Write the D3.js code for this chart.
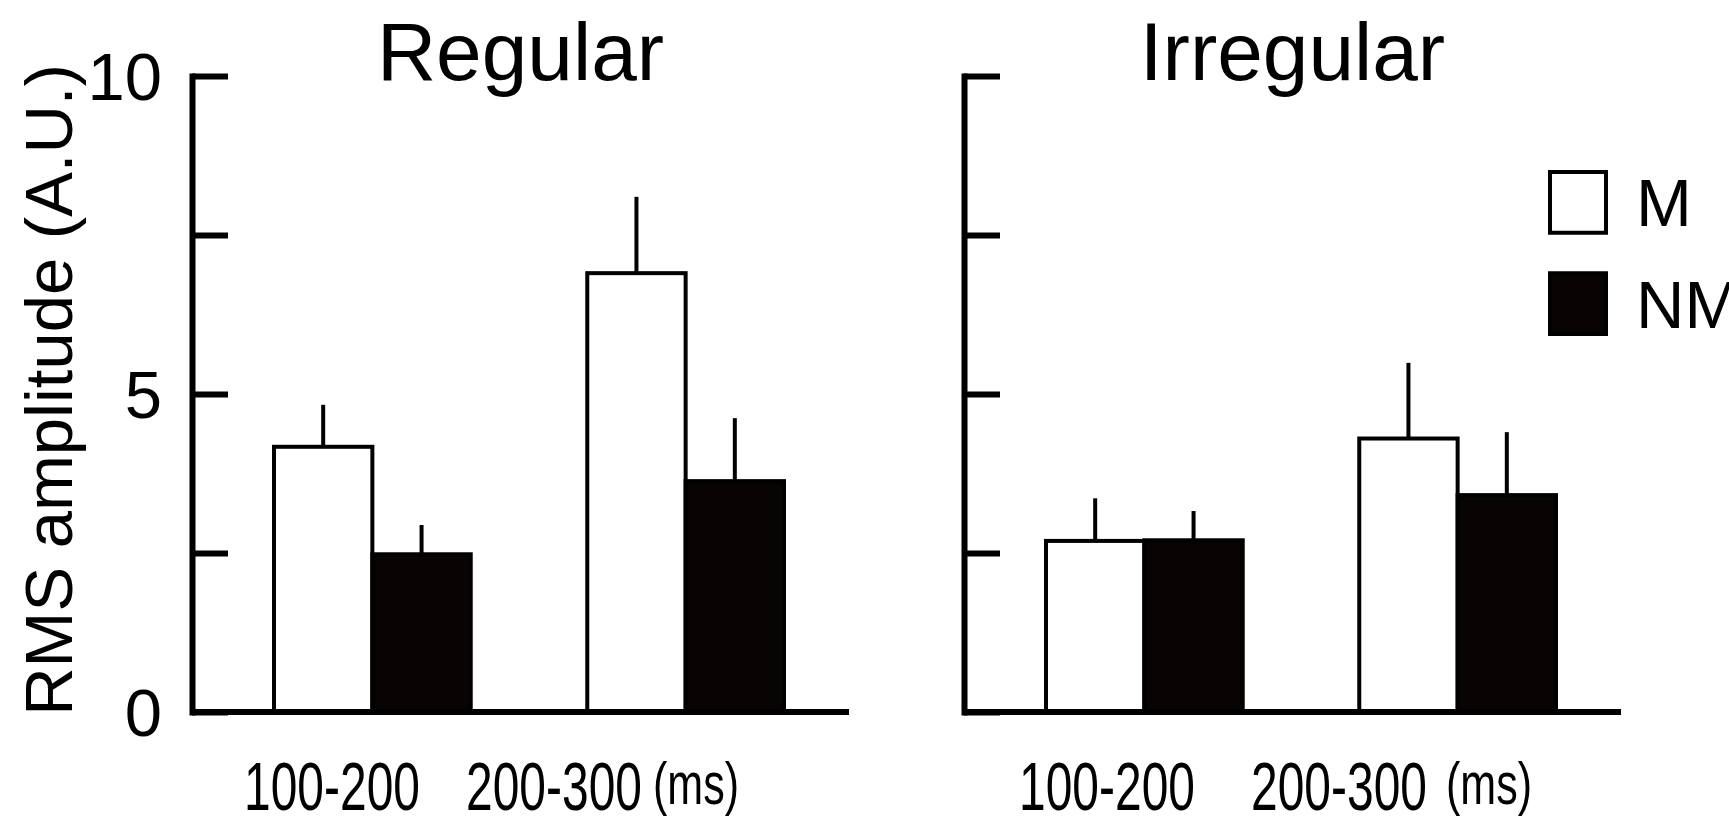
<!DOCTYPE html>
<html>
<head>
  <meta charset="utf-8">
  <title>RMS amplitude, Regular vs Irregular</title>
  <script src="https://d3js.org/d3.v7.min.js"></script>
  <style>
    body { margin: 0; background: #fff; }
    text { font-family: "Liberation Sans", Arial, Helvetica, sans-serif; fill: #000; }
  </style>
</head>
<body>
<script>
  const width = 1729;
  const height = 825;

  // data
  const categories = ["100-200", "200-300"];
  const conditions = ["M", "NM"];
  const panelTitles = ["Regular", "Irregular"];
  const regularM = [4.17, 6.90];
  const regularMErr = [0.66, 1.20];
  const regularNM = [2.48, 3.63];
  const regularNMErr = [0.46, 0.99];
  const irregularM = [2.69, 4.30];
  const irregularMErr = [0.67, 1.19];
  const irregularNM = [2.70, 3.41];
  const irregularNMErr = [0.46, 0.99];
  const yTicks = [0, 2.5, 5, 7.5, 10];
  const yTickLabels = ["0", "5", "10"];

  const panels = [
    {title: panelTitles[0], m: regularM, mErr: regularMErr, nm: regularNM, nmErr: regularNMErr},
    {title: panelTitles[1], m: irregularM, mErr: irregularMErr, nm: irregularNM, nmErr: irregularNMErr}
  ];

  // layout
  const panelX = [192, 964];
  const panelW = 657;
  const labelStarts = [[52, 274, 461], [55, 287, 482]];
  const fills = {M: "#fff", NM: "#080404"};

  const svg = d3.select("body")
    .append("svg")
    .attr("width", width)
    .attr("height", height);

  const y = d3.scaleLinear().domain([0, 10]).range([712, 76]);

  const x0 = d3.scaleBand()
    .domain(categories)
    .range([82, 592])
    .paddingInner(0.372);

  const x1 = d3.scaleBand()
    .domain(conditions)
    .range([0, x0.bandwidth()]);

  // condensed label: squeeze a text horizontally to a given width
  function narrowText(parent, x, yPos, size, w, str) {
    const t = parent.append("g")
      .append("text")
      .style("font-size", size + "px")
      .text(str);
    const natural = t.node().getComputedTextLength();
    t.node().parentNode.setAttribute("transform",
      `translate(${x},${yPos}) scale(${w / natural},1)`);
  }

  panels.forEach((p, i) => {
    const g = svg.append("g").attr("transform", `translate(${panelX[i]},0)`);

    // title
    g.append("text")
      .attr("x", panelW / 2)
      .attr("y", 80)
      .attr("text-anchor", "middle")
      .style("font-size", "82px")
      .text(p.title);

    const rows = categories.map((c, j) => [
      {cat: c, cond: "M", v: p.m[j], e: p.mErr[j]},
      {cat: c, cond: "NM", v: p.nm[j], e: p.nmErr[j]}
    ]).flat();

    // error bars (upper only)
    g.selectAll("line.err")
      .data(rows)
      .join("line")
      .attr("class", "err")
      .attr("x1", d => x0(d.cat) + x1(d.cond) + x1.bandwidth() / 2)
      .attr("x2", d => x0(d.cat) + x1(d.cond) + x1.bandwidth() / 2)
      .attr("y1", d => y(d.v))
      .attr("y2", d => y(d.v + d.e))
      .attr("stroke", "#000")
      .attr("stroke-width", 4);

    // bars
    g.selectAll("rect.bar")
      .data(rows)
      .join("rect")
      .attr("class", "bar")
      .attr("x", d => x0(d.cat) + x1(d.cond))
      .attr("y", d => y(d.v))
      .attr("width", x1.bandwidth())
      .attr("height", d => y(0) - y(d.v))
      .attr("fill", d => fills[d.cond])
      .attr("stroke", "#000")
      .attr("stroke-width", 4);

    // y axis with inward ticks
    const axis = g.append("g")
      .call(d3.axisRight(y).tickValues(yTicks).tickSize(36).tickSizeOuter(0).tickFormat(""));
    axis.selectAll("path, line").attr("stroke", "#000").attr("stroke-width", 6);
    axis.select(".domain").attr("stroke-linecap", "square");

    // baseline
    g.append("line")
      .attr("x1", 0)
      .attr("x2", panelW)
      .attr("y1", y(0))
      .attr("y2", y(0))
      .attr("stroke", "#000")
      .attr("stroke-width", 6);

    // category labels
    categories.forEach((c, j) => narrowText(g, labelStarts[i][j], 810, 69, 176, c));
    narrowText(g, labelStarts[i][2], 804, 60, 86, "(ms)");
  });

  // y tick labels, left panel only
  svg.selectAll("text.ytick")
    .data(yTickLabels)
    .join("text")
    .attr("class", "ytick")
    .attr("x", 162)
    .attr("y", d => y(+d))
    .attr("dy", "0.36em")
    .attr("text-anchor", "end")
    .style("font-size", "67px")
    .text(d => d);

  // y axis title
  svg.append("text")
    .attr("transform", "translate(72,390) rotate(-90)")
    .attr("text-anchor", "middle")
    .style("font-size", "67px")
    .text("RMS amplitude (A.U.)");

  // legend
  const legend = svg.append("g").attr("transform", "translate(1550,0)");
  const legendY = d3.scaleBand().domain(conditions).range([172, 334]).paddingInner(0.4);
  legend.selectAll("rect")
    .data(conditions)
    .join("rect")
    .attr("x", 0)
    .attr("y", d => legendY(d))
    .attr("width", 56)
    .attr("height", legendY.bandwidth())
    .attr("fill", d => fills[d])
    .attr("stroke", "#000")
    .attr("stroke-width", 4);
  legend.selectAll("text")
    .data(conditions)
    .join("text")
    .attr("x", 86)
    .attr("y", d => legendY(d) + legendY.bandwidth() / 2)
    .attr("dy", "0.36em")
    .style("font-size", "67px")
    .text(d => d);
</script>
</body>
</html>
